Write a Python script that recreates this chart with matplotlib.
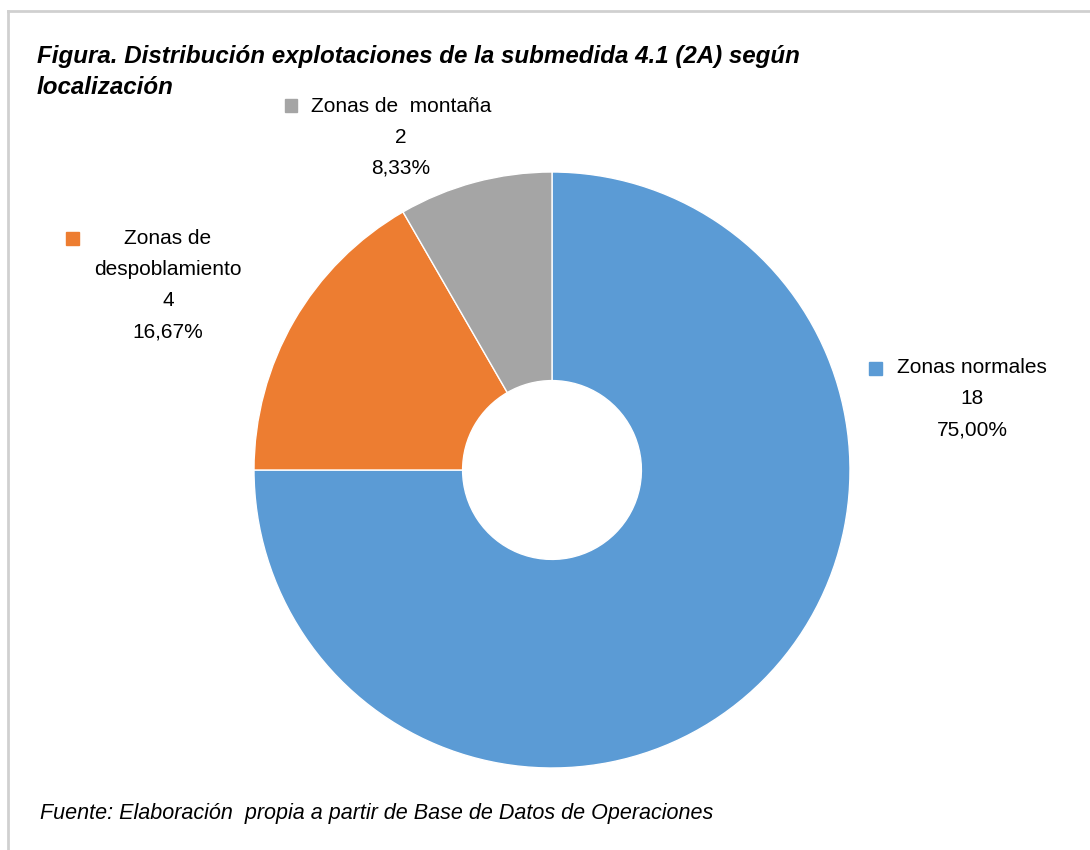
import matplotlib
matplotlib.use("Agg")
import matplotlib.pyplot as plt
from matplotlib.patches import Rectangle
from matplotlib.lines import Line2D

plt.rcParams['font.family'] = ['Liberation Sans', 'DejaVu Sans']

# Data
categories = ['Zonas normales', 'Zonas de\ndespoblamiento', 'Zonas de  montaña']
values = [18, 4, 2]
colors = ['#5B9BD5', '#ED7D31', '#A5A5A5']

title = 'Figura. Distribución explotaciones de la submedida 4.1 (2A) según\nlocalización'
source = 'Fuente: Elaboración  propia a partir de Base de Datos de Operaciones'

W, H = 1090, 850
fig = plt.figure(figsize=(W / 100, H / 100), dpi=100)

# donut: centre (552, 470) px, outer radius 298 px
cx, cy, r = 552, 470, 298
ax = fig.add_axes([(cx - r) / W, (H - cy - r) / H, 2 * r / W, 2 * r / H])
ax.pie(values, colors=colors, startangle=90, counterclock=False,
       wedgeprops=dict(width=0.70, edgecolor='white', linewidth=1))
ax.set_xlim(-1, 1)
ax.set_ylim(-1, 1)
ax.set_aspect('equal')
ax.axis('off')

# frame (partly cropped in the original)
fig.add_artist(Line2D([8 / W, 1], [1 - 11 / H, 1 - 11 / H], color='#D0D0D0', lw=2))
fig.add_artist(Line2D([8 / W, 8 / W], [0, 1 - 11 / H], color='#D0D0D0', lw=2))

fig.text(37 / W, 1 - 72 / H, title, fontsize=17.4, fontweight='bold', style='italic',
         ha='left', va='center', linespacing=1.45)
fig.text(40 / W, 1 - 814 / H, source, fontsize=15.5, style='italic',
         ha='left', va='center')

# data labels: (centre x, top line y, marker x, marker y) in pixels
label_pos = [(972, 367, 875, 368), (168, 238, 72, 238), (401, 106, 291, 105)]
total = sum(values)
for cat, v, col, (lx, ly, mx, my) in zip(categories, values, colors, label_pos):
    pct = f'{v / total * 100:.2f}%'.replace('.', ',')
    txt = f'{cat}\n{v}\n{pct}'
    fig.text(lx / W, 1 - (ly - 9) / H, txt, fontsize=15, ha='center', va='top',
             multialignment='center', linespacing=1.8)
    s = 13
    fig.add_artist(Rectangle(((mx - s / 2) / W, 1 - (my + s / 2) / H), s / W, s / H,
                             color=col, transform=fig.transFigure))

fig.savefig('out.png', dpi=100)
